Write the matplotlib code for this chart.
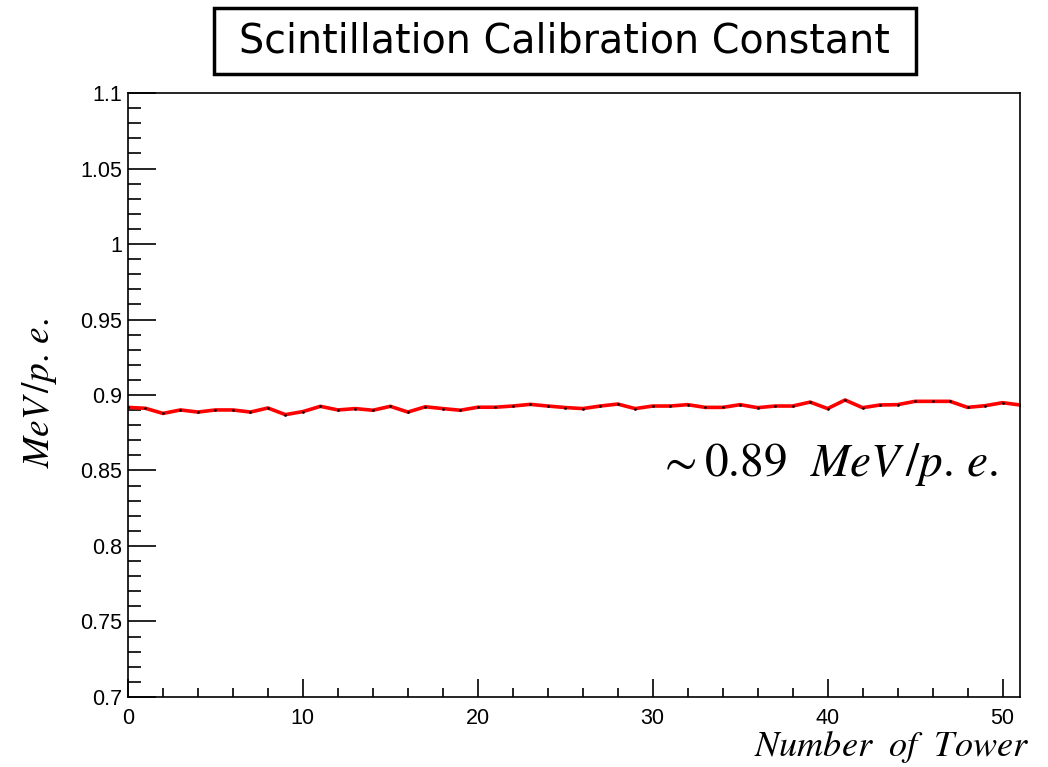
import numpy as np
import matplotlib.pyplot as plt
from matplotlib.patches import Rectangle
from matplotlib.ticker import MultipleLocator

plt.rcParams['mathtext.fontset'] = 'stix'

tower = np.arange(52)
calib = [0.8918, 0.8912, 0.8878, 0.8901, 0.8887, 0.8901, 0.8901, 0.8887, 0.8914, 0.8870,
         0.8890, 0.8925, 0.8901, 0.8910, 0.8899, 0.8925, 0.8887, 0.8922, 0.8910, 0.8899,
         0.8919, 0.8919, 0.8927, 0.8938, 0.8927, 0.8917, 0.8910, 0.8927, 0.8940, 0.8910,
         0.8927, 0.8927, 0.8936, 0.8918, 0.8918, 0.8936, 0.8916, 0.8927, 0.8927, 0.8953,
         0.8910, 0.8967, 0.8916, 0.8934, 0.8936, 0.8958, 0.8958, 0.8958, 0.8918, 0.8929,
         0.8949, 0.8934]

fig = plt.figure(figsize=(10.48, 7.67), dpi=100)
ax = fig.add_axes([0.1221, 0.0913, 0.8512, 0.7874])

ax.plot(tower, calib, color='red', linewidth=2.6)
ax.plot(tower, calib, 's', color='black', markersize=0.8)

ax.set_xlim(0, 51)
ax.set_ylim(0.7, 1.1)
ax.xaxis.set_major_locator(MultipleLocator(10))
ax.xaxis.set_minor_locator(MultipleLocator(2))
ax.yaxis.set_minor_locator(MultipleLocator(0.01))
ax.set_yticks(np.arange(0.7, 1.101, 0.05))
ax.set_yticklabels(['0.7', '0.75', '0.8', '0.85', '0.9', '0.95', '1', '1.05', '1.1'])

ax.tick_params(axis='both', which='both', direction='in', top=False, right=False,
               labelsize=15.5, width=1.2)
ax.tick_params(axis='y', which='major', length=20, pad=4)
ax.tick_params(axis='y', which='minor', length=9.5)
ax.tick_params(axis='x', which='major', length=13, pad=8)
ax.tick_params(axis='x', which='minor', length=6.5)
for lbl in ax.get_xticklabels() + ax.get_yticklabels():
    lbl.set_fontfamily('Liberation Sans')
for s in ax.spines.values():
    s.set_linewidth(1.2)

fig.text(0.038, 0.487, r'$MeV\,/p.\,e.$', rotation=90, fontsize=27,
         ha='center', va='center')
fig.text(0.982, 0.0143, r'$Number\ \ of\ \ Tower$', fontsize=26,
         ha='right', va='baseline')
fig.text(0.628, 0.394, r'$\sim$0.89  $MeV\,/p.\,e.$', fontsize=34,
         ha='left', va='center', family='STIXGeneral')

fig.patches.append(Rectangle((0.2042, 0.9035), 0.670, 0.086, transform=fig.transFigure,
                             fc='white', ec='black', lw=2.5))
fig.text(0.539, 0.9465, 'Scintillation Calibration Constant', fontsize=28.5,
         ha='center', va='center', family='DejaVu Sans')

fig.savefig('out.png', dpi=100)
